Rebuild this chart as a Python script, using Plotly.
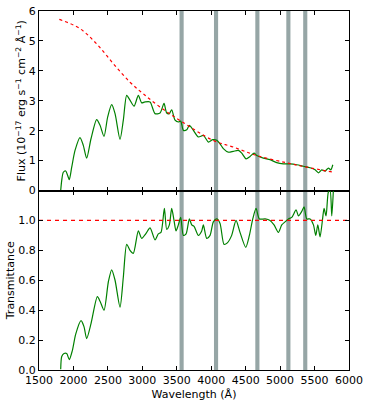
"""Flux and transmittance spectrum, two stacked panels"""
import plotly.graph_objects as go
from plotly.subplots import make_subplots

# continuum model (red dashed, top panel)
cont_wave = [1795, 2095, 2337, 2579, 2821, 3015, 3257, 3547, 4031, 4322,
             4660, 5096, 5387, 5774]
cont_flux = [5.72, 5.41, 4.90, 4.24, 3.62, 3.23, 2.79, 2.34, 1.67, 1.45,
             1.17, 0.925, 0.78, 0.61]

# observed flux (green, top panel)
flux_wave = [1815, 1830, 1853, 1888, 1916, 1940, 1975, 2023, 2095, 2143,
             2192, 2255, 2337, 2386, 2444, 2497, 2555, 2604, 2676, 2724,
             2773, 2821, 2880, 2942, 2991, 3039, 3112, 3184, 3257, 3315,
             3354, 3392, 3426, 3475, 3523, 3557, 3596, 3645, 3683, 3741,
             3814, 3886, 3959, 4022, 4080, 4128, 4176, 4249, 4322, 4394,
             4443, 4506, 4564, 4622, 4661, 4757, 4854, 4951, 5047, 5145,
             5242, 5338, 5435, 5508, 5556, 5605, 5653, 5701, 5736, 5765]
flux_val = [0.0, 0.34, 0.61, 0.65, 0.50, 0.36, 0.78, 1.34, 1.77, 1.51,
            1.08, 1.73, 2.37, 2.18, 1.81, 2.46, 2.87, 2.57, 1.71, 2.35,
            3.18, 3.02, 2.82, 3.18, 2.93, 2.96, 2.96, 2.57, 2.59, 2.91,
            2.59, 2.57, 2.70, 2.35, 2.29, 2.32, 2.01, 2.03, 2.18, 2.01,
            1.79, 1.84, 1.62, 1.70, 1.68, 1.56, 1.40, 1.28, 1.31, 1.34,
            1.25, 1.06, 1.14, 1.25, 1.17, 1.08, 1.03, 0.93, 0.89, 0.89,
            0.86, 0.81, 0.76, 0.69, 0.59, 0.69, 0.65, 0.75, 0.69, 0.86]

# transmittance (green, bottom panel)
tr_wave = [1815, 1830, 1863, 1902, 1940, 1984, 2033, 2110, 2153, 2192,
           2255, 2347, 2386, 2444, 2507, 2555, 2604, 2676, 2724, 2773,
           2821, 2869, 2942, 2991, 3049, 3112, 3184, 3232, 3271, 3320,
           3354, 3392, 3426, 3460, 3489, 3523, 3557, 3596, 3635, 3683,
           3717, 3751, 3814, 3862, 3886, 3935, 3983, 4031, 4080, 4128,
           4186, 4234, 4297, 4360, 4418, 4501, 4554, 4603, 4651, 4699,
           4782, 4854, 4912, 4975, 5024, 5072, 5121, 5169, 5232, 5266,
           5314, 5348, 5387, 5435, 5484, 5518, 5547, 5580, 5619, 5638,
           5667, 5701, 5725, 5750, 5773]
tr_val = [0.005, 0.09, 0.11, 0.11, 0.07, 0.13, 0.24, 0.33, 0.29, 0.21,
          0.31, 0.49, 0.46, 0.40, 0.59, 0.67, 0.60, 0.42, 0.62, 0.84,
          0.80, 0.78, 0.93, 0.88, 0.91, 0.95, 0.87, 0.91, 0.92, 1.08,
          0.94, 0.97, 1.08, 1.00, 0.93, 0.97, 1.02, 0.90, 0.91, 1.01,
          0.97, 0.96, 0.90, 0.93, 0.97, 0.88, 0.90, 0.99, 1.01, 0.98,
          0.84, 0.85, 0.90, 1.00, 0.92, 0.82, 0.90, 1.01, 1.08, 1.01,
          1.01, 1.00, 0.97, 0.92, 0.97, 0.99, 1.01, 1.02, 1.07, 1.03,
          1.06, 1.09, 1.01, 1.01, 0.97, 0.90, 0.97, 0.89, 1.02, 1.08,
          1.03, 1.19, 1.20, 1.03, 1.20]

# masked regions (grey bands)
band_lo = [3540, 4040, 4640, 5090, 5335]
band_hi = [3600, 4100, 4700, 5150, 5395]

ref_wave = [1500, 6000]
ref_level = [1.0, 1.0]

fig = make_subplots(rows=2, cols=1, shared_xaxes=True, vertical_spacing=0)

fig.add_trace(go.Scatter(x=flux_wave, y=flux_val, mode="lines",
                         line=dict(color="green", width=1.2, shape="spline",
                                   smoothing=0.7)),
              row=1, col=1)
fig.add_trace(go.Scatter(x=cont_wave, y=cont_flux, mode="lines",
                         line=dict(color="red", width=1.2, dash="3px,3px",
                                   shape="spline")),
              row=1, col=1)
fig.add_trace(go.Scatter(x=tr_wave, y=tr_val, mode="lines",
                         line=dict(color="green", width=1.2, shape="spline",
                                   smoothing=0.7)),
              row=2, col=1)
fig.add_trace(go.Scatter(x=ref_wave, y=ref_level, mode="lines",
                         line=dict(color="red", width=1.2, dash="4px,4px")),
              row=2, col=1)

for lo, hi in zip(band_lo, band_hi):
    fig.add_shape(type="rect", xref="x", yref="paper", x0=lo, x1=hi,
                  y0=0, y1=1, fillcolor="rgb(150,166,166)", line_width=0,
                  layer="below")

font = dict(family="DejaVu Sans", size=11, color="black")
axis_style = dict(showline=True, linecolor="black", linewidth=1, mirror="allticks",
                  ticks="inside", ticklen=4, tickcolor="black", showgrid=False,
                  zeroline=False, tickfont=font, automargin=False)

fig.update_xaxes(range=[1500, 6000], tickvals=list(range(1500, 6001, 500)),
                 **axis_style)
fig.update_xaxes(showticklabels=False, row=1, col=1)
fig.update_xaxes(title=dict(text="Wavelength (Å)", font=font, standoff=4),
                 row=2, col=1)
fig.update_yaxes(range=[0, 6], tickvals=[0, 1, 2, 3, 4, 5, 6],
                 title=dict(text="Flux (10<sup>−17</sup> erg s<sup>−1</sup> cm<sup>−2</sup> Å<sup>−1</sup>)",
                            font=font, standoff=0),
                 row=1, col=1, **axis_style)
fig.update_yaxes(range=[0, 1.2], tickvals=[0, 0.2, 0.4, 0.6, 0.8, 1.0],
                 ticktext=["0.0", "0.2", "0.4", "0.6", "0.8", "1.0"],
                 title=dict(text="Transmittance", font=font, standoff=1),
                 row=2, col=1, **axis_style)

fig.update_layout(width=367, height=405, showlegend=False,
                  margin=dict(l=39, r=18, t=11, b=35),
                  plot_bgcolor="white", paper_bgcolor="white", font=font)

# drop the default 8 px body margin of the page
fig.write_html("out.html", config={"displayModeBar": False},
               post_script="document.body.style.margin='0px';")
